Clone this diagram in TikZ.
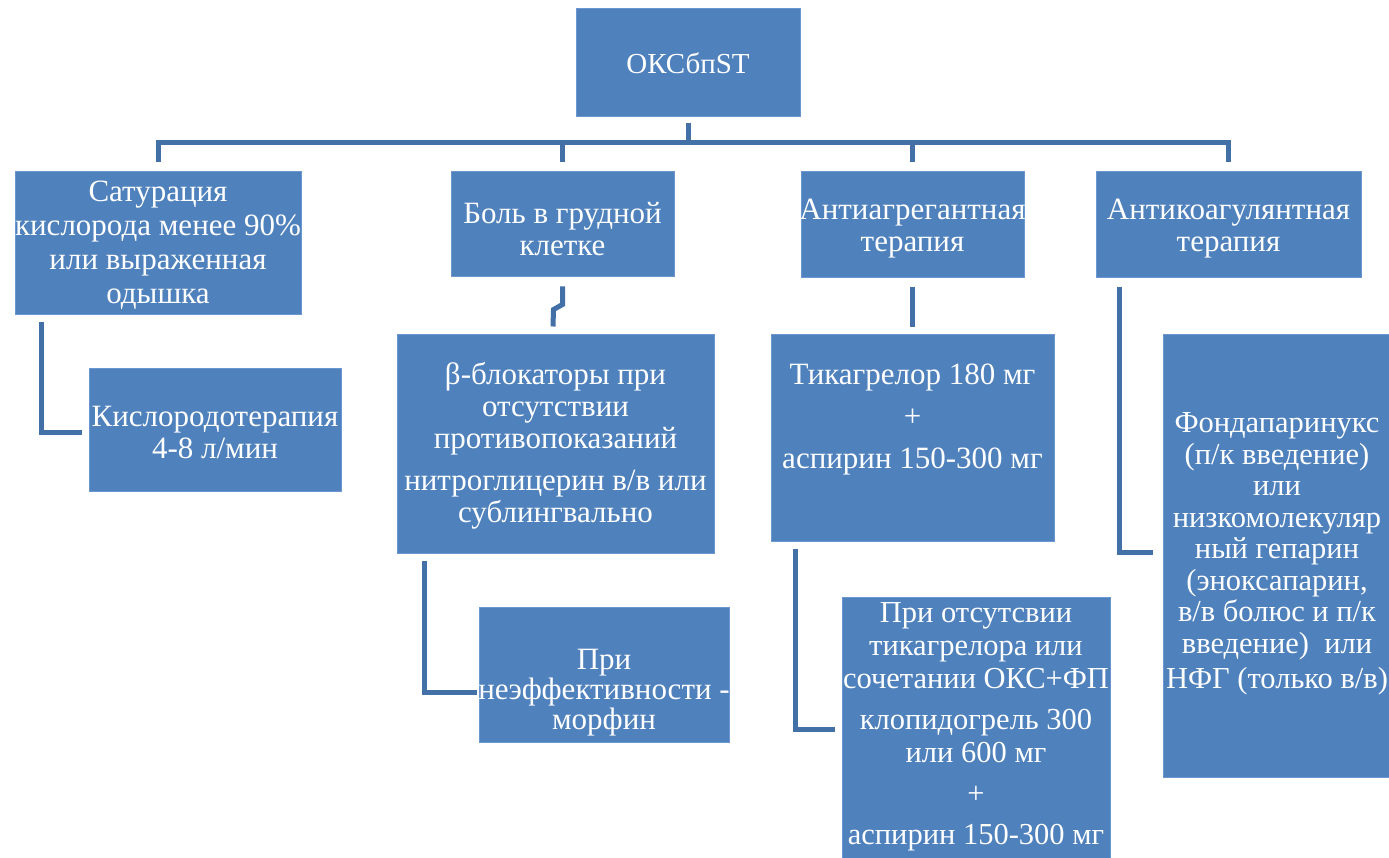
\documentclass[tikz,border=0pt]{standalone}
\usepackage{fontspec}
\setmainfont{Liberation Serif}
\newfontfamily\lserif{Liberation Serif}
\definecolor{boxblue}{HTML}{4F81BD}
\definecolor{boxedge}{HTML}{6A97CF}
\definecolor{linkblue}{HTML}{4470A8}
\begin{document}
\begin{tikzpicture}[x=1pt,y=-1pt,
  box/.style={fill=boxblue,draw=boxedge,line width=1pt,inner sep=0pt},
  txt/.style={text=white,align=center,inner sep=0pt,font=\lserif\fontsize{31}{32}\selectfont},
  conn/.style={draw=linkblue,line width=5pt,line cap=butt,line join=miter}]
\useasboundingbox (0,0) rectangle (1389,858);
% boxes
\node[box,minimum width=224pt,minimum height=108pt] (top)   at (688,63) {};
\node[box,minimum width=286pt,minimum height=143pt] (sat)   at (158,243.5) {};
\node[box,minimum width=223pt,minimum height=105pt] (bol)   at (562.5,224.5) {};
\node[box,minimum width=223pt,minimum height=106pt] (agr)   at (912.5,225) {};
\node[box,minimum width=265pt,minimum height=106pt] (koag)  at (1228.5,225) {};
\node[box,minimum width=252pt,minimum height=122pt] (kisl)  at (215,430) {};
\node[box,minimum width=317pt,minimum height=218pt] (beta)  at (555.5,444) {};
\node[box,minimum width=250pt,minimum height=135pt] (morph) at (604,674.5) {};
\node[box,minimum width=283pt,minimum height=206pt] (tik)   at (912.5,438) {};
\node[box,minimum width=268pt,minimum height=264pt] (otsut) at (976,729) {};
\node[box,minimum width=229pt,minimum height=442pt] (fonda) at (1277.5,556) {};
% texts
\node[txt,font=\lserif\fontsize{29}{32}\selectfont] (ttop) at (688,63) {ОКСбпST};
\node[txt,font=\lserif\fontsize{31}{34}\selectfont] (tsat) at (158,245) {Сатурация\\кислорода менее 90\%\\или выраженная\\одышка};
\node[txt] (tbol)   at (562.5,229) {Боль в грудной\\клетке};
\node[txt] (tagr)   at (912.5,229) {Антиагрегантная\\терапия};
\node[txt] (tkoag)  at (1228.5,229) {Антикоагулянтная\\терапия};
\node[txt] (tkisl)  at (215,433) {Кислородотерапия\\4-8 л/мин};
\node[txt] (tbeta)  at (555.5,446) {β-блокаторы при\\отсутствии\\противопоказаний\\[10pt]нитроглицерин  в/в или\\сублингвально};
\node[txt,font=\lserif\fontsize{31}{30}\selectfont] (tmorph) at (604,693) {При\\неэффективности -\\морфин};
\node[txt] (ttik)   at (912.5,419) {Тикагрелор 180 мг\\[10pt]+\\[10pt]аспирин 150-300 мг};
\node[txt,font=\lserif\fontsize{30.5}{33}\selectfont] (totsut) at (976,727) {При отсутсвии\\тикагрелора или\\сочетании ОКС+ФП\\[8pt]клопидогрель 300\\или 600 мг\\[8pt]+\\[8pt]аспирин 150-300 мг};
\node[txt,font=\lserif\fontsize{30.5}{31.5}\selectfont] (tfonda) at (1277,554) {Фондапаринукс\\(п/к введение)\\или\\низкомолекуляр\\ный гепарин\\(эноксапарин,\\в/в болюс и п/к\\введение)~~или\\[4pt]НФГ (только в/в)};
% connectors
\coordinate (bus) at (688,143);
\draw[conn] ([yshift=-6pt]top.south) -- (top.south |- bus);
\draw[conn] ([yshift=9pt]sat.north) -- (sat.north |- bus) -- (koag.north |- bus) -- ([yshift=9pt]koag.north);
\draw[conn] (bol.north |- bus) -- ([yshift=9pt]bol.north);
\draw[conn] (agr.north |- bus) -- ([yshift=9pt]agr.north);
\draw[conn] ([xshift=27pt,yshift=-7pt]sat.south west) |- ([xshift=-7pt,yshift=-2pt]kisl.west);
\draw[conn] ([yshift=-9pt]bol.south) -- ++(0,18) -- ++(-9,5) -- ([xshift=-2.5pt,yshift=8pt]beta.north);
\draw[conn] ([yshift=-9pt]agr.south) -- ([yshift=7pt]tik.north);
\draw[conn] ([xshift=28pt,yshift=-7pt]beta.south west) |- ([xshift=-2pt,yshift=-17.5pt]morph.west);
\draw[conn] ([xshift=25pt,yshift=-7pt]tik.south west) |- ([xshift=-7pt]otsut.west);
\draw[conn] ([xshift=24pt,yshift=-9pt]koag.south west) |- ([xshift=-10pt,yshift=4pt]fonda.west);
\end{tikzpicture}
\end{document}
